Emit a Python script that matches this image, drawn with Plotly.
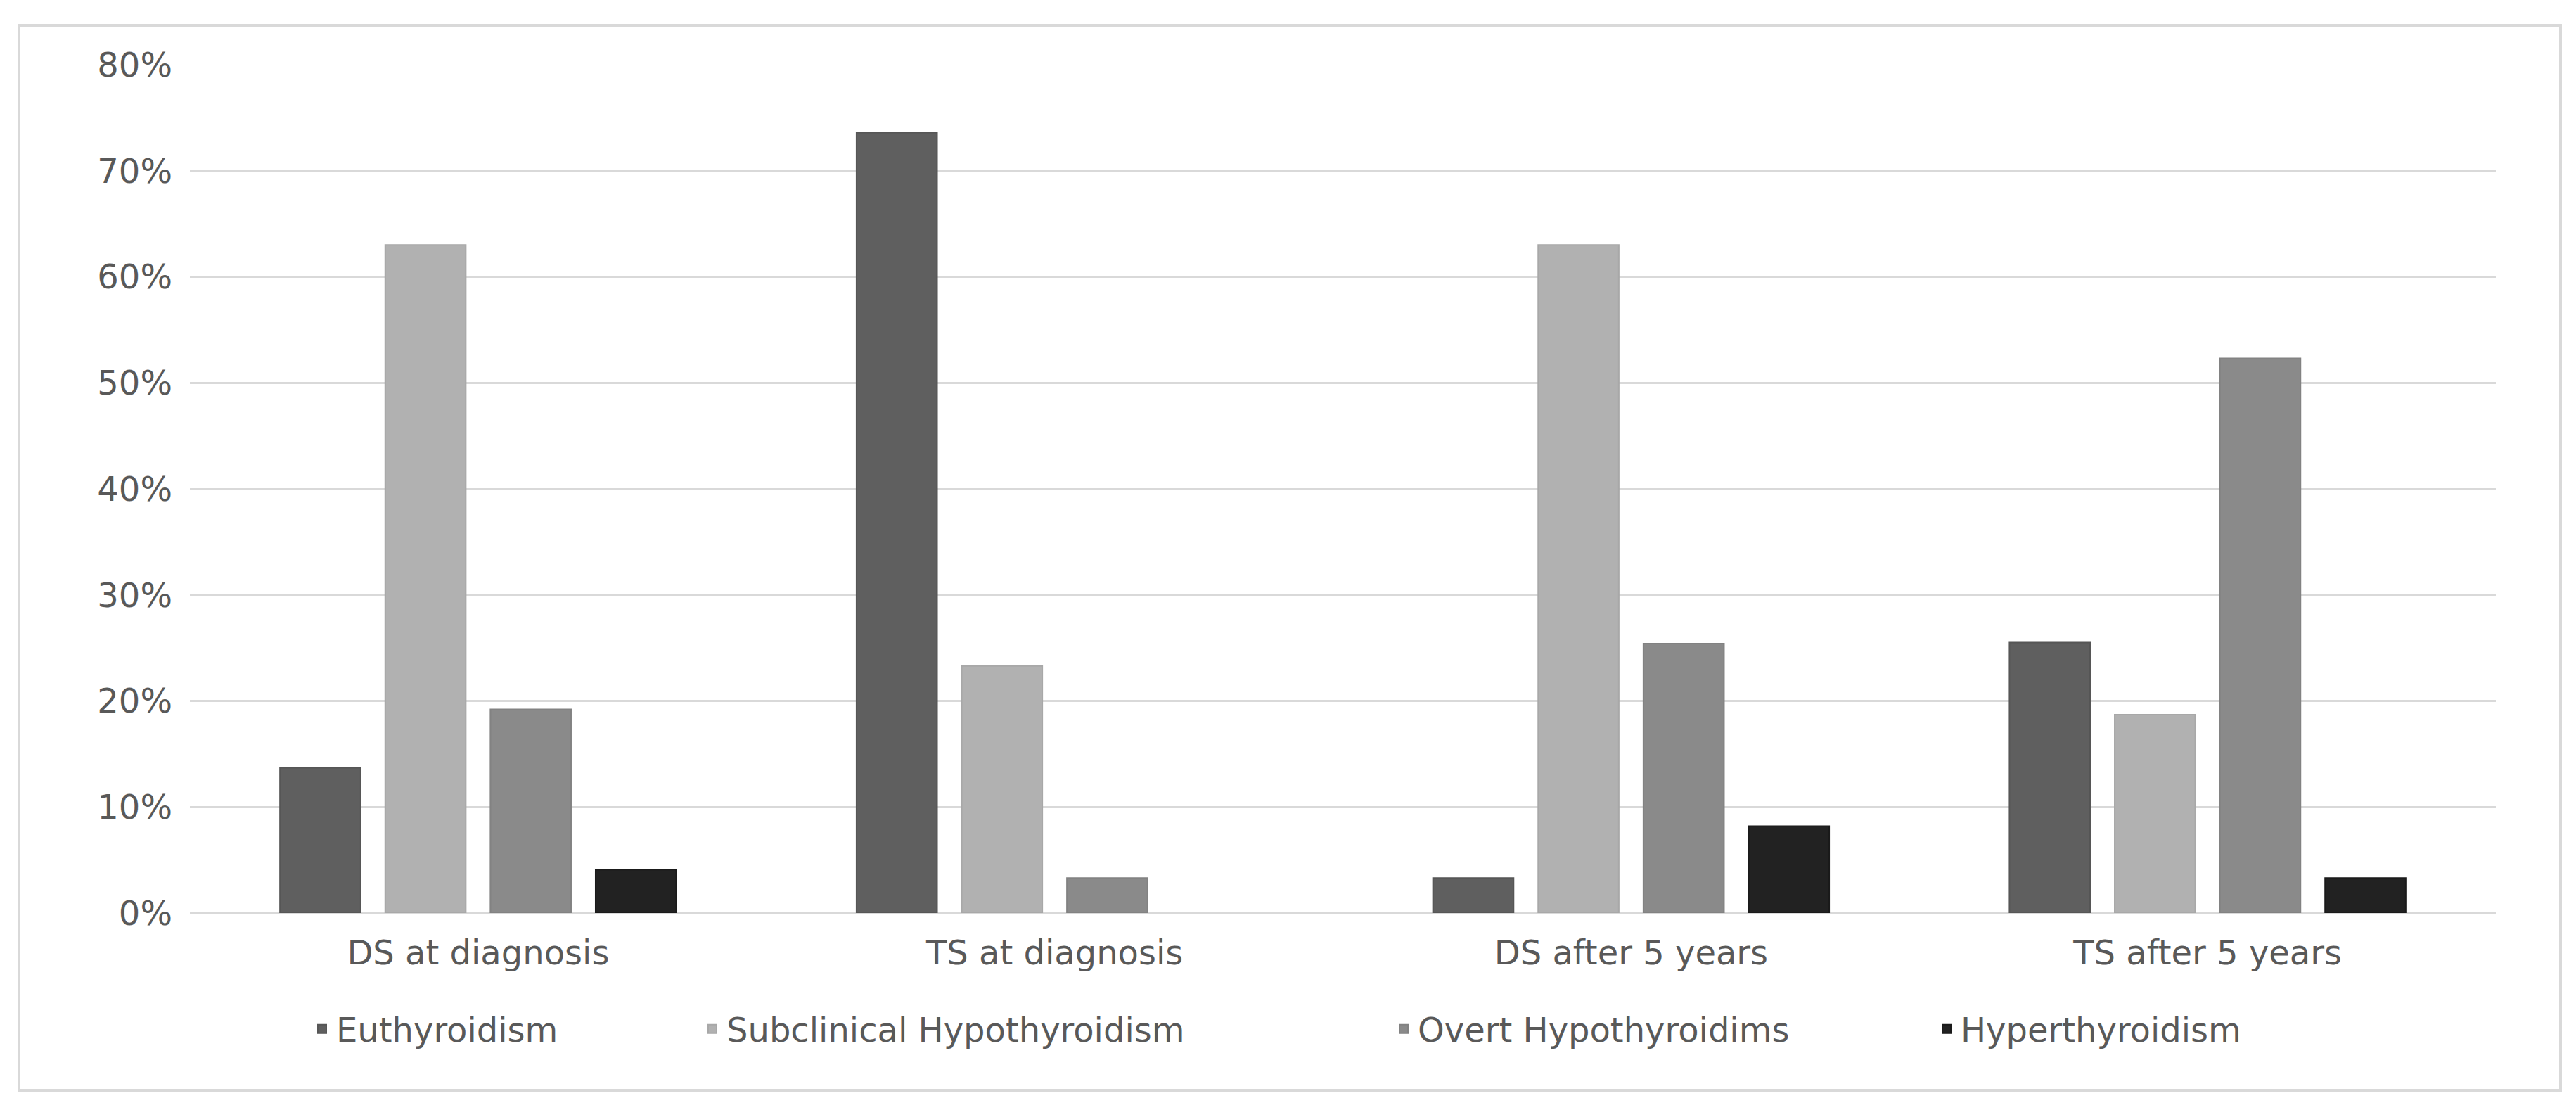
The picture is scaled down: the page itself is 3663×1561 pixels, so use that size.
import plotly.graph_objects as go

categories = ["DS at diagnosis", "TS at diagnosis", "DS after 5 years", "TS after 5 years"]
series_names = ["Euthyroidism", "Subclinical Hypothyroidism", "Overt Hypothyroidims", "Hyperthyroidism"]
euthyroidism = [0.137, 0.736, 0.033, 0.255]
subclinical = [0.630, 0.233, 0.630, 0.187]
overt = [0.192, 0.033, 0.254, 0.523]
hyper = [0.041, 0.0, 0.082, 0.033]
colors = ["#5f5f5f", "#b1b1b1", "#8a8a8a", "#222222"]
edge_colors = ["#565656", "#a8a8a8", "#828282", "#1a1a1a"]
y_ticks = [0, 0.1, 0.2, 0.3, 0.4, 0.5, 0.6, 0.7, 0.8]

FONT = "DejaVu Sans, Verdana, sans-serif"
TXT = "#595959"
FS = 48

W, H = 3663, 1561
L, R, T, B = 262, 122, 84, 271
pw, ph = W - L - R, H - T - B

def px_x(p):
    return (p - L) / pw

def px_y(p):
    return (H - B - p) / ph

# left edge (px) of each legend entry
legend_left = [430, 985, 1968, 2740]
legend_keys = ["legend", "legend2", "legend3", "legend4"]

fig = go.Figure()
for name, vals, c, ec, lk in zip(series_names, [euthyroidism, subclinical, overt, hyper],
                                 colors, edge_colors, legend_keys):
    fig.add_trace(go.Bar(x=categories, y=vals, name=name, legend=lk, showlegend=True,
                         marker=dict(color=c, line=dict(color=ec,
                                     width=[2 if v > 0 else 0 for v in vals]))))

layout_legends = {}
for lk, lx in zip(legend_keys, legend_left):
    layout_legends[lk] = dict(orientation="h", xanchor="left", yanchor="middle",
                              x=px_x(lx), y=px_y(1455),
                              font=dict(family=FONT, size=FS, color=TXT),
                              bgcolor="rgba(0,0,0,0)", borderwidth=0)

fig.update_layout(
    width=W, height=H,
    margin=dict(l=L, r=R, t=T, b=B),
    paper_bgcolor="white", plot_bgcolor="white",
    showlegend=True,
    barmode="group", bargap=0.27, bargroupgap=0.234,
    font=dict(family=FONT, size=FS, color=TXT),
    xaxis=dict(showgrid=False, showline=False, zeroline=False,
               tickfont=dict(family=FONT, size=FS, color=TXT),
               ticklabelstandoff=24),
    yaxis=dict(range=[0, 0.8], tickvals=y_ticks, tickformat=".0%",
               showgrid=True, gridcolor="#d9d9d9", gridwidth=3,
               zeroline=True, zerolinecolor="#d9d9d9", zerolinewidth=3,
               showline=False, ticklabelstandoff=24,
               tickfont=dict(family=FONT, size=FS, color=TXT)),
    shapes=[dict(type="rect", xref="paper", yref="paper",
                 x0=px_x(19), x1=px_x(3633), y0=px_y(1542), y1=px_y(28),
                 line=dict(color="#d9d9d9", width=4), fillcolor="rgba(0,0,0,0)",
                 layer="below")],
    **layout_legends,
)

fig.write_html("out.html")
